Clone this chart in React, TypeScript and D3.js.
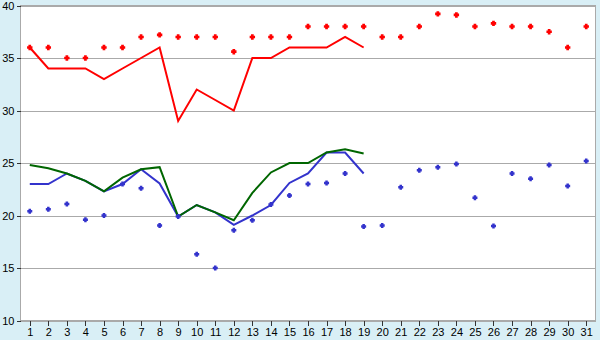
import React from 'react'
import * as d3 from 'd3'

const days = ['1','2','3','4','5','6','7','8','9','10','11','12','13','14','15','16','17','18','19','20','21','22','23','24','25','26','27','28','29','30','31']
const yTicks = [10, 15, 20, 25, 30, 35, 40]

// red crosses and red line
const maxDots = [36, 36, 35, 35, 36, 36, 37, 37.2, 37, 37, 37, 35.6, 37, 37, 37, 38, 38, 38, 38, 37, 37, 38, 39.2, 39.1, 38, 38.3, 38, 38, 37.5, 36, 38]
const maxLine = [36, 34, 34, 34, 33, 34, 35, 36, 29, 32, 31, 30, 35, 35, 36, 36, 36, 37, 36]
// blue crosses, blue and green lines
const minDots = [20.4, 20.6, 21.1, 19.6, 20, 23, 22.6, 19.05, 19.9, 16.3, 15, 18.6, 19.55, 21.05, 21.9, 23, 23.1, 24, 18.95, 19.05, 22.7, 24.3, 24.6, 24.9, 21.7, 19, 24, 23.5, 24.8, 22.8, 25.2]
const blueLine = [23, 23, 24, 23.3, 22.3, 23, 24.4, 23.05, 19.9, 21, 20.3, 19.1, 20, 21, 23.1, 24, 26, 26, 24]
const greenLine = [24.8, 24.5, 24, 23.3, 22.3, 23.6, 24.4, 24.6, 19.9, 21, 20.3, 19.55, 22.15, 24.1, 25, 25, 26, 26.3, 25.9]

const W = 600
const H = 340
const margin = { top: 5.5, right: 4.5, bottom: 19.5, left: 20.5 }

// little "+" shaped marker
const cross = (r: number) => {
  const a = r * 0.5
  return `M${-a},${-r}H${a}V${-a}H${r}V${a}H${a}V${r}H${-a}V${a}H${-r}V${-a}H${-a}Z`
}

export default function App() {
  const x = d3.scalePoint<string>()
    .domain(days)
    .range([margin.left, W - margin.right])
    .padding(0.5)
  const y = d3.scaleLinear()
    .domain([10, 40])
    .range([H - margin.bottom, margin.top])

  const line = d3.line<number>()
    .x((_, i) => x(days[i]) as number)
    .y(d => y(d))

  const axisLeft = d3.axisLeft(y).tickValues(yTicks).tickSize(4).tickPadding(2).tickFormat(d3.format('d'))
  const axisBottom = d3.axisBottom(x).tickSize(5).tickPadding(3)

  const styleAxis = (node: SVGGElement | null, axis: any) => {
    if (!node) return
    const g = d3.select(node).call(axis)
    g.selectAll('.domain').remove()
    g.selectAll('line').attr('stroke', '#333').attr('shape-rendering', 'crispEdges')
    g.selectAll('text').attr('fill', '#000').style('font-family', '"Liberation Sans", Arial, sans-serif').style('font-size', '11px')
  }

  return (
    <svg width={W} height={H} style={{ position: 'absolute', left: 0, top: 0, display: 'block' }}>
      <rect width={W} height={H} fill="#d9eff6" />
      <rect
        x={margin.left}
        y={margin.top}
        width={W - margin.left - margin.right}
        height={H - margin.top - margin.bottom}
        fill="#fff"
      />
      {/* grid */}
      {yTicks.map(t => (
        <line key={t} x1={margin.left} x2={W - margin.right} y1={Math.round(y(t)) + 0.5} y2={Math.round(y(t)) + 0.5}
          stroke="#aaa" strokeWidth={1.5} shapeRendering="crispEdges" />
      ))}
      <rect
        x={margin.left}
        y={margin.top}
        width={W - margin.left - margin.right}
        height={H - margin.top - margin.bottom}
        fill="none" stroke="#aaa" strokeWidth={1.5} shapeRendering="crispEdges"
      />
      <g transform={`translate(${margin.left},0)`} ref={node => styleAxis(node, axisLeft)} />
      <g transform={`translate(0,${H - margin.bottom})`} ref={node => styleAxis(node, axisBottom)} />

      {/* series */}
      <path d={line(maxLine) ?? ''} fill="none" stroke="#ff0000" strokeWidth={2} />
      <path d={line(blueLine) ?? ''} fill="none" stroke="#3333cc" strokeWidth={2} />
      <path d={line(greenLine) ?? ''} fill="none" stroke="#006600" strokeWidth={2} />
      {maxDots.map((v, i) => (
        <path key={'r' + i} d={cross(2.7)} transform={`translate(${x(days[i])},${y(v)})`} fill="#ff0000" />
      ))}
      {minDots.map((v, i) => (
        <path key={'b' + i} d={cross(2.5)} transform={`translate(${x(days[i])},${y(v)})`} fill="#3333cc" />
      ))}
    </svg>
  )
}
